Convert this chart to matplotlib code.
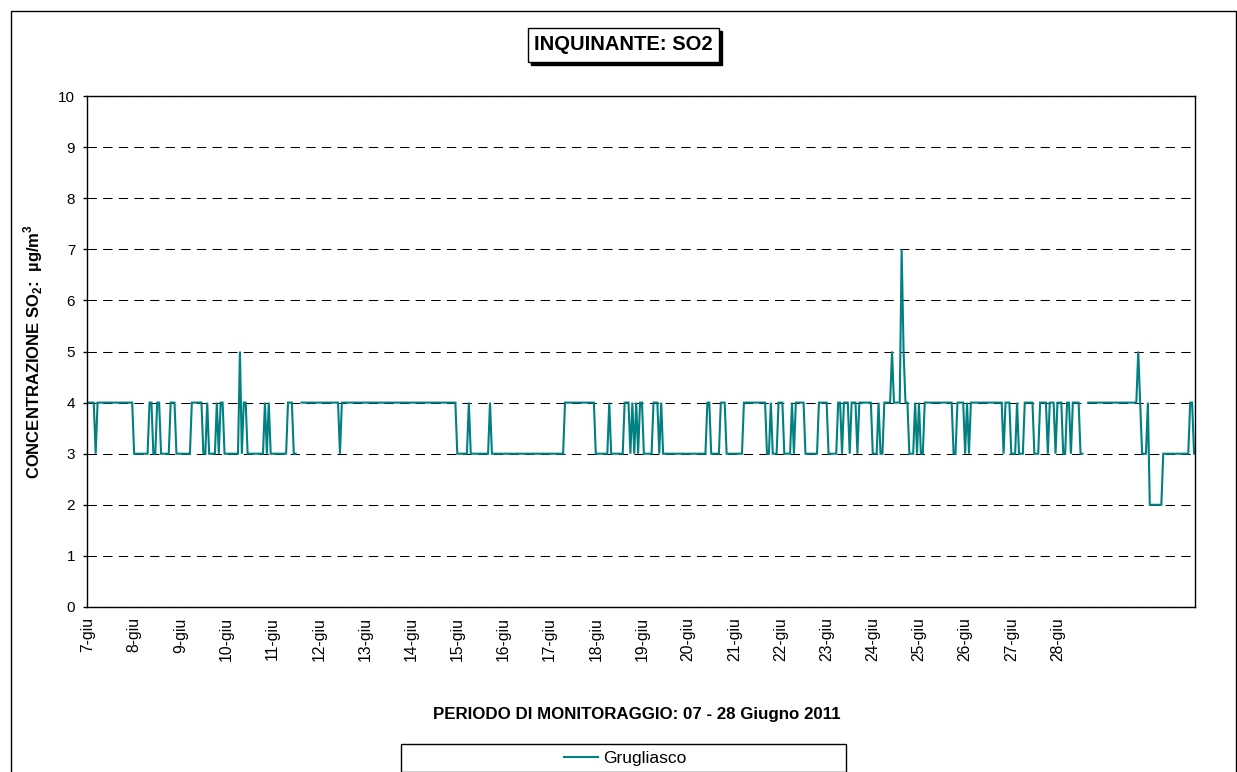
import numpy as np
import matplotlib
matplotlib.use("Agg")
import matplotlib.pyplot as plt
from matplotlib.patches import Rectangle

plt.rcParams['font.family'] = ['Liberation Sans', 'DejaVu Sans']
plt.rcParams['mathtext.fontset'] = 'custom'
plt.rcParams['mathtext.rm'] = 'Liberation Sans:bold'
plt.rcParams['mathtext.bf'] = 'Liberation Sans:bold'

# ---------------- data ----------------
title = "INQUINANTE: SO2"
series_name = "Grugliasco"
y_label = "CONCENTRAZIONE SO$_\\mathbf{2}$:  µg/m$^\\mathbf{3}$"
x_label = "PERIODO DI MONITORAGGIO: 07 - 28 Giugno 2011"

day_labels = ["7-giu", "8-giu", "9-giu", "10-giu", "11-giu", "12-giu", "13-giu",
              "14-giu", "15-giu", "16-giu", "17-giu", "18-giu", "19-giu", "20-giu",
              "21-giu", "22-giu", "23-giu", "24-giu", "25-giu", "26-giu", "27-giu",
              "28-giu"]

# hourly SO2 values (µg/m3), one string of 24 hours per day, 'x' = missing
hourly_by_day = [
    "444434444444444444444444",  # 7 giu
    "333333334433443333344433",  # 8
    "333333444444334333343443",  # 9
    "333333353443333333334343",  # 10
    "3333333344433xx444444444",  # 11
    "444444444443444444444444",  # 12
    "444444444444444444444444",  # 13
    "444444444444444444444444",  # 14
    "333333433333333334333333",  # 15
    "333333333333333333333333",  # 16
    "333333334444444444444444",  # 17
    "333333343333333444343434",  # 18
    "433333444343333333333333",  # 19
    "333333333344333334443333",  # 20
    "333334444444444443343334",  # 21
    "443333434444433333334444",  # 22
    "433333443444344434444444",  # 23
    "333433444454444754433343",  # 24
    "433444444444444444334444",  # 25
    "343444444444444444443444",  # 26
    "333433344444333444434443",  # 27
    "44433443444433xx44444444",  # 28
    "444444444444444444543334",  # 29
    "222222233333333333333443",  # 30
]

values = np.array([np.nan if c == 'x' else float(c)
                   for day in hourly_by_day for c in day])
hours = np.arange(len(values))

# ---------------- figure ----------------
W, H = 1237, 772
fig = plt.figure(figsize=(W / 100, H / 100), dpi=100)

def fx(px):
    return px / W

def fy(py_top):
    return 1 - py_top / H

ax = fig.add_axes([fx(87), fy(607), fx(1195) - fx(87), fy(96) - fy(607)])

line, = ax.plot(hours, values, color='#008080', lw=1.5, label=series_name,
                solid_joinstyle='miter')

ax.set_xlim(-0.5, len(values) - 0.5)
ax.set_ylim(0, 10)
ax.set_yticks(range(0, 11))
ax.set_xticks(np.arange(len(day_labels)) * 24)
ax.set_xticklabels(day_labels, rotation=90, fontsize=11.3)
ax.tick_params(axis='y', labelsize=11, length=3, width=1, pad=5.5, direction='out')
ax.tick_params(axis='x', length=0, pad=7.5)

ax.yaxis.grid(True, linestyle=(0, (9, 6)), color='black', lw=0.75)
ax.set_axisbelow(True)
for s in ax.spines.values():
    s.set_color('black')
    s.set_linewidth(1.0)

ax.set_ylabel(y_label, fontsize=12, fontweight='bold')
ax.yaxis.set_label_coords(-0.038, 0.5)

fig.text(fx(637), fy(715), x_label, ha='center', va='center',
         fontsize=12.2, fontweight='bold')

# title box with shadow
bx0, bx1, by0, by1 = 528, 719, 28, 62
fig.patches.append(Rectangle((fx(bx0 + 3), fy(by1 + 3)), fx(bx1 - bx0), fy(by0) - fy(by1),
                             transform=fig.transFigure, facecolor='black',
                             edgecolor='black', lw=1))
fig.patches.append(Rectangle((fx(bx0), fy(by1)), fx(bx1 - bx0), fy(by0) - fy(by1),
                             transform=fig.transFigure, facecolor='white',
                             edgecolor='black', lw=1))
fig.text(fx((bx0 + bx1) / 2), fy((by0 + by1) / 2), title, ha='center', va='center',
         fontsize=14.5, fontweight='bold')

# legend box
fig.patches.append(Rectangle((fx(401), fy(772)), fx(846 - 401), fy(744) - fy(772),
                             transform=fig.transFigure, facecolor='white',
                             edgecolor='black', lw=1))
fig.legend(handles=[line], loc='center', bbox_to_anchor=(fx(625), fy(758)),
           frameon=False, fontsize=12.5, handlelength=1.95, handletextpad=0.3,
           borderpad=0, borderaxespad=0)

# chart area border
fig.patches.append(Rectangle((fx(10.5), -0.02), fx(1236 - 10.5), fy(10.5) + 0.02,
                             transform=fig.transFigure, fill=False,
                             edgecolor='black', lw=1))

fig.savefig("out.png", dpi=100)
